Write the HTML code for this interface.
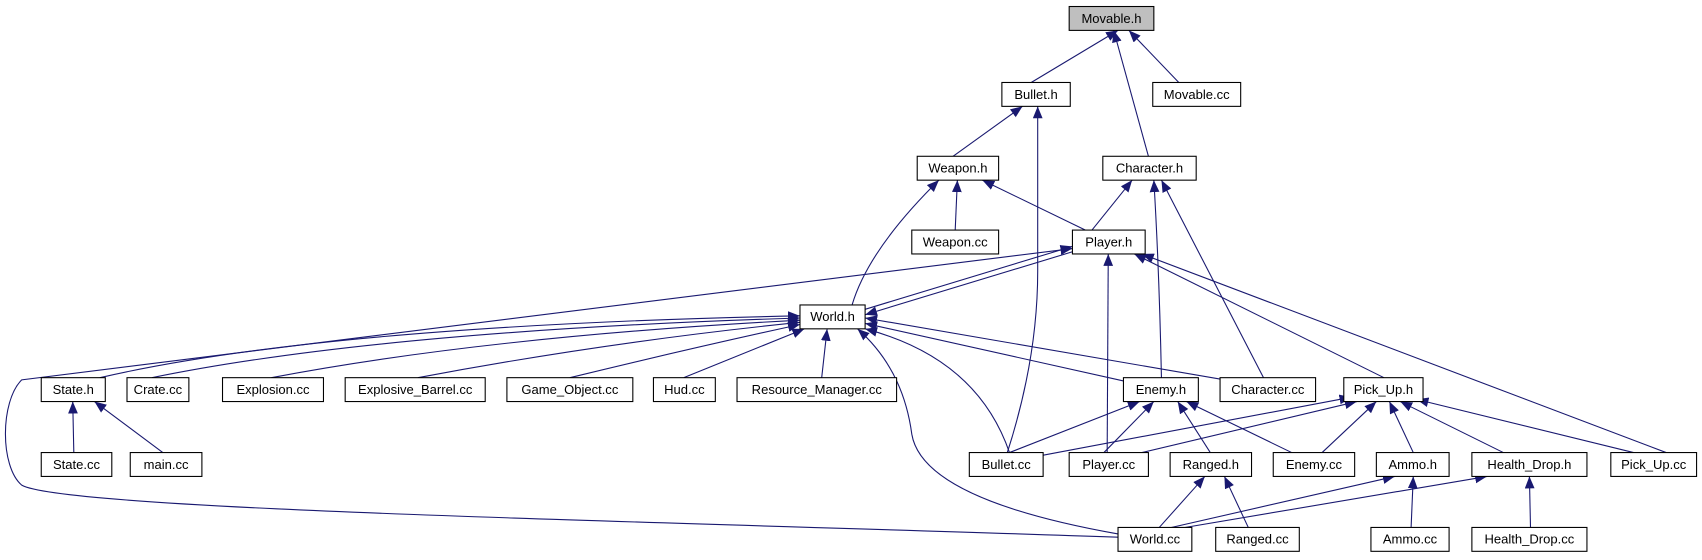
<!DOCTYPE html>
<html><head><meta charset="utf-8"><style>
html,body{margin:0;padding:0;background:#fff;}
svg{display:block;}
text{font-family:"Liberation Sans",sans-serif;font-size:12px;text-anchor:middle;fill:#000;}
</style></head><body>
<svg width="1702" height="560" viewBox="0 0 1568 516" preserveAspectRatio="none" xmlns="http://www.w3.org/2000/svg">
<defs><marker id="a" markerUnits="userSpaceOnUse" markerWidth="12" markerHeight="10" refX="11" refY="4.5" orient="auto"><path d="M0,0 L11,4.5 L0,9 z" fill="#191970"/></marker></defs>
<g fill="none" stroke="#191970" stroke-width="1" marker-end="url(#a)">
<path d="M950,76 L1030,28"/>
<path d="M1058,144 L1026,28"/>
<path d="M1086,76 L1040,28"/>
<path d="M878,144 L942,98"/>
<path d="M928,417 Q956,330 956,250 L956,98"/>
<path d="M880,212 L882,166"/>
<path d="M1000,212 L905,166"/>
<path d="M785,281 Q800,230 865,166"/>
<path d="M1006,212 L1043,166"/>
<path d="M1070,348 Q1068,250 1063,166"/>
<path d="M1164,348 L1070,166"/>
<path d="M797,285 L988,227"/>
<path d="M988,232 L797,290"/>
<path d="M1030,495 C600,480 60,470 20,447 C0,430 0,370 20,350 L988,229"/>
<path d="M1020,417 L1021,234"/>
<path d="M1275,348 L1045,234"/>
<path d="M1535,417 L1052,234"/>
<path d="M92,348 Q300,300 737,291"/>
<path d="M140,348 Q350,305 737,293"/>
<path d="M250,348 Q450,310 737,295"/>
<path d="M385,348 Q560,315 737,297"/>
<path d="M525,348 Q640,320 737,299"/>
<path d="M630,348 L741,303"/>
<path d="M757,348 L762,303"/>
<path d="M1035,351 L797,298"/>
<path d="M1128,350 L797,293"/>
<path d="M930,417 Q900,330 797,303"/>
<path d="M1030,492 Q850,460 840,400 Q832,340 790,303"/>
<path d="M68,417 L67,370"/>
<path d="M150,417 L87,370"/>
<path d="M930,417 L1050,370"/>
<path d="M1017,417 L1063,370"/>
<path d="M1115,417 L1085,370"/>
<path d="M1190,417 L1093,370"/>
<path d="M958,420 L1245,366"/>
<path d="M1052,417 L1250,370"/>
<path d="M1218,417 L1268,370"/>
<path d="M1302,417 L1280,370"/>
<path d="M1385,417 L1290,370"/>
<path d="M1505,417 L1305,368"/>
<path d="M1068,486 L1110,439"/>
<path d="M1150,486 L1128,439"/>
<path d="M1075,487 L1285,439"/>
<path d="M1300,486 L1302,439"/>
<path d="M1080,488 L1370,439"/>
<path d="M1410,486 L1409,439"/>
</g>
<g stroke="#000" stroke-width="1" fill="#fff">
<rect x="985" y="6" width="78" height="22" fill="#bfbfbf"/>
<rect x="923" y="76" width="63" height="22"/>
<rect x="1062" y="76" width="81" height="22"/>
<rect x="845" y="144" width="75" height="22"/>
<rect x="1016" y="144" width="86" height="22"/>
<rect x="840" y="212" width="80" height="22"/>
<rect x="988" y="212" width="67" height="22"/>
<rect x="737" y="281" width="60" height="22"/>
<rect x="38" y="348" width="59" height="22"/>
<rect x="117" y="348" width="57" height="22"/>
<rect x="205" y="348" width="93" height="22"/>
<rect x="318" y="348" width="129" height="22"/>
<rect x="467" y="348" width="116" height="22"/>
<rect x="602" y="348" width="57" height="22"/>
<rect x="679" y="348" width="147" height="22"/>
<rect x="1035" y="348" width="69" height="22"/>
<rect x="1124" y="348" width="88" height="22"/>
<rect x="1238" y="348" width="73" height="22"/>
<rect x="38" y="417" width="65" height="22"/>
<rect x="120" y="417" width="66" height="22"/>
<rect x="893" y="417" width="68" height="22"/>
<rect x="985" y="417" width="73" height="22"/>
<rect x="1078" y="417" width="75" height="22"/>
<rect x="1173" y="417" width="75" height="22"/>
<rect x="1268" y="417" width="67" height="22"/>
<rect x="1356" y="417" width="106" height="22"/>
<rect x="1484" y="417" width="79" height="22"/>
<rect x="1030" y="486" width="68" height="22"/>
<rect x="1120" y="486" width="77" height="22"/>
<rect x="1263" y="486" width="72" height="22"/>
<rect x="1356" y="486" width="106" height="22"/>
</g>
<g>
<text x="1024" y="21">Movable.h</text>
<text x="954.5" y="91">Bullet.h</text>
<text x="1102.5" y="91">Movable.cc</text>
<text x="882.5" y="159">Weapon.h</text>
<text x="1059" y="159">Character.h</text>
<text x="880" y="227">Weapon.cc</text>
<text x="1021.5" y="227">Player.h</text>
<text x="767" y="296">World.h</text>
<text x="67.5" y="363">State.h</text>
<text x="145.5" y="363">Crate.cc</text>
<text x="251.5" y="363">Explosion.cc</text>
<text x="382.5" y="363">Explosive_Barrel.cc</text>
<text x="525" y="363">Game_Object.cc</text>
<text x="630.5" y="363">Hud.cc</text>
<text x="752.5" y="363">Resource_Manager.cc</text>
<text x="1069.5" y="363">Enemy.h</text>
<text x="1168" y="363">Character.cc</text>
<text x="1274.5" y="363">Pick_Up.h</text>
<text x="70.5" y="432">State.cc</text>
<text x="153" y="432">main.cc</text>
<text x="927" y="432">Bullet.cc</text>
<text x="1021.5" y="432">Player.cc</text>
<text x="1115.5" y="432">Ranged.h</text>
<text x="1210.5" y="432">Enemy.cc</text>
<text x="1301.5" y="432">Ammo.h</text>
<text x="1409" y="432">Health_Drop.h</text>
<text x="1523.5" y="432">Pick_Up.cc</text>
<text x="1064" y="501">World.cc</text>
<text x="1158.5" y="501">Ranged.cc</text>
<text x="1299" y="501">Ammo.cc</text>
<text x="1409" y="501">Health_Drop.cc</text>
</g>
</svg>
</body></html>
